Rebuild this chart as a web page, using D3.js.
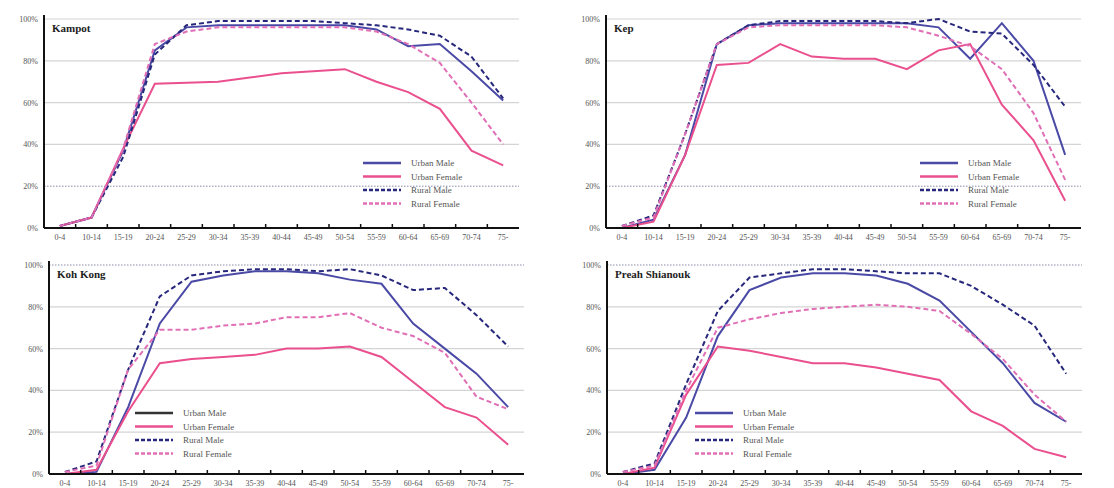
<!DOCTYPE html>
<html>
<head>
<meta charset="utf-8">
<script src="https://cdn.jsdelivr.net/npm/d3@7"></script>
<style>
  body { margin: 0; background: #fff; }
  text { font-family: "Liberation Serif", "DejaVu Serif", serif; }
</style>
</head>
<body>
<script>
var ageGroups = ["0-4","10-14","15-19","20-24","25-29","30-34","35-39","40-44","45-49","50-54","55-59","60-64","65-69","70-74","75-"];
var yTicks = [0, 20, 40, 60, 80, 100];
var seriesNames = ["Urban Male", "Urban Female", "Rural  Male", "Rural  Female"];
var provinces = ["Kampot", "Kep", "Koh Kong", "Preah Shianouk"];

// values in percent, one array per series per province
var kampotUrbanMale   = [1,5,37,85,96,97,97,97,97,97,95,87,88,75,61];
var kampotUrbanFemale = [1,5,38,69,69.5,70,72,74,75,76,70,65,57,37,30];
var kampotRuralMale   = [1,5,34,83,97,99,99,99,99,98,97,95,92,82,62];
var kampotRuralFemale = [1,5,38,88,94,96,96,96,96,96,94,88,79,60,40];

var kepUrbanMale   = [0,4,35,88,97,98,98,98,98,98,96,81,98,80,35];
var kepUrbanFemale = [0,3,35,78,79,88,82,81,81,76,85,88,59,42,13];
var kepRuralMale   = [1,6,45,88,97,99,99,99,99,98,100,94,93,78,58];
var kepRuralFemale = [1,5,45,88,96,97,97,97,97,96,92,87,76,55,23];

var kohKongUrbanMale   = [0,1,32,72,92,95,97,97,96,93,91,72,60,48,32];
var kohKongUrbanFemale = [0,2,30,53,55,56,57,60,60,61,56,44,32,27,14];
var kohKongRuralMale   = [1,6,50,85,95,97,98,98,97,98,95,88,89,76,61];
var kohKongRuralFemale = [1,4,50,69,69,71,72,75,75,77,70,66,58,37,31];

var preahUrbanMale   = [0,2,27,66,88,94,96,96,95,91,83,68,53,34,25];
var preahUrbanFemale = [0,3,38,61,59,56,53,53,51,48,45,30,23,12,8];
var preahRuralMale   = [1,5,43,78,94,96,98,98,97,96,96,90,81,71,48];
var preahRuralFemale = [1,4,40,70,74,77,79,80,81,80,78,67,55,38,25];

var panelData = [
  [kampotUrbanMale, kampotUrbanFemale, kampotRuralMale, kampotRuralFemale],
  [kepUrbanMale, kepUrbanFemale, kepRuralMale, kepRuralFemale],
  [kohKongUrbanMale, kohKongUrbanFemale, kohKongRuralMale, kohKongRuralFemale],
  [preahUrbanMale, preahUrbanFemale, preahRuralMale, preahRuralFemale]
];

var colors = ["#4a4aa6", "#ea4f8e", "#27287c", "#e06fb6"];
var dashes = [null, null, "5,3", "5,3"];

var width = 1114, height = 488;
var svg = d3.select("body").append("svg").attr("width", width).attr("height", height);

// layout of each panel
var layout = [
  {left: 44,  top: 19,  dotted: 20,  legX: 363, legY: 163},
  {left: 606, top: 19,  dotted: 20,  legX: 920, legY: 163},
  {left: 49,  top: 265, dotted: 100, legX: 135, legY: 413},
  {left: 607, top: 265, dotted: 100, legX: 695, legY: 413}
];
var pw = 475, ph = 209;

provinces.forEach(function(name, i){
  var L = layout[i];
  var g = svg.append("g").attr("transform", "translate(" + L.left + "," + L.top + ")");

  var x = d3.scaleBand().domain(ageGroups).range([0, pw]);
  var y = d3.scaleLinear().domain([0, 100]).range([ph, 0]);

  // gridlines
  g.selectAll(".grid")
    .data(yTicks.filter(function(t){ return t > 0; }))
    .enter()
    .append("line")
    .attr("x1", 0).attr("x2", pw)
    .attr("y1", function(d){ return y(d); })
    .attr("y2", function(d){ return y(d); })
    .attr("stroke", function(d){ return d == L.dotted ? "#8a8aa8" : "#d4d4d4"; })
    .attr("stroke-width", function(d){ return d == L.dotted ? 1 : 1.2; })
    .attr("stroke-dasharray", function(d){ return d == L.dotted ? "1.5,1.5" : null; });

  // y labels
  g.selectAll(".ylab")
    .data(yTicks)
    .enter()
    .append("text")
    .attr("x", -6)
    .attr("y", function(d){ return y(d) + 3; })
    .attr("text-anchor", "end")
    .attr("font-size", 8)
    .attr("fill", "#555")
    .text(function(d){ return d + "%"; });

  // x labels
  g.selectAll(".xlab")
    .data(ageGroups)
    .enter()
    .append("text")
    .attr("x", function(d){ return x(d) + x.bandwidth() / 2; })
    .attr("y", ph + 12)
    .attr("text-anchor", "middle")
    .attr("font-size", 8)
    .attr("fill", "#555")
    .text(function(d){ return d; });

  // lines
  var line = d3.line()
    .x(function(d, j){ return x(ageGroups[j]) + x.bandwidth() / 2; })
    .y(function(d){ return y(d); });

  panelData[i].forEach(function(vals, s){
    g.append("path")
      .datum(vals)
      .attr("d", line)
      .attr("fill", "none")
      .attr("stroke", colors[s])
      .attr("stroke-width", 2)
      .attr("stroke-dasharray", dashes[s]);
  });

  // axes
  g.append("line").attr("x1", 0).attr("x2", 0).attr("y1", -4).attr("y2", ph)
    .attr("stroke", "#111").attr("stroke-width", 2);
  g.append("line").attr("x1", 0).attr("x2", pw).attr("y1", ph).attr("y2", ph)
    .attr("stroke", "#111").attr("stroke-width", 2);
  g.selectAll(".tick")
    .data(ageGroups.slice(1))
    .enter()
    .append("line")
    .attr("x1", function(d){ return x(d); })
    .attr("x2", function(d){ return x(d); })
    .attr("y1", ph - 4).attr("y2", ph)
    .attr("stroke", "#111").attr("stroke-width", 1.5);

  // title
  g.append("text")
    .attr("x", 8).attr("y", 13)
    .attr("font-size", 11)
    .attr("font-weight", "bold")
    .attr("fill", "#222")
    .text(name);

  // legend
  var leg = svg.append("g").attr("transform", "translate(" + L.legX + "," + L.legY + ")");
  seriesNames.forEach(function(sn, s){
    var c = colors[s];
    if (i == 2 && s == 0) c = "#333";
    leg.append("line")
      .attr("x1", 0).attr("x2", 38)
      .attr("y1", s * 13.5).attr("y2", s * 13.5)
      .attr("stroke", c)
      .attr("stroke-width", 2.5)
      .attr("stroke-dasharray", dashes[s] ? "4,2" : null);
    leg.append("text")
      .attr("x", 48).attr("y", s * 13.5 + 3)
      .attr("font-size", 9)
      .attr("fill", "#555")
      .text(sn);
  });
});
</script>
</body>
</html>
